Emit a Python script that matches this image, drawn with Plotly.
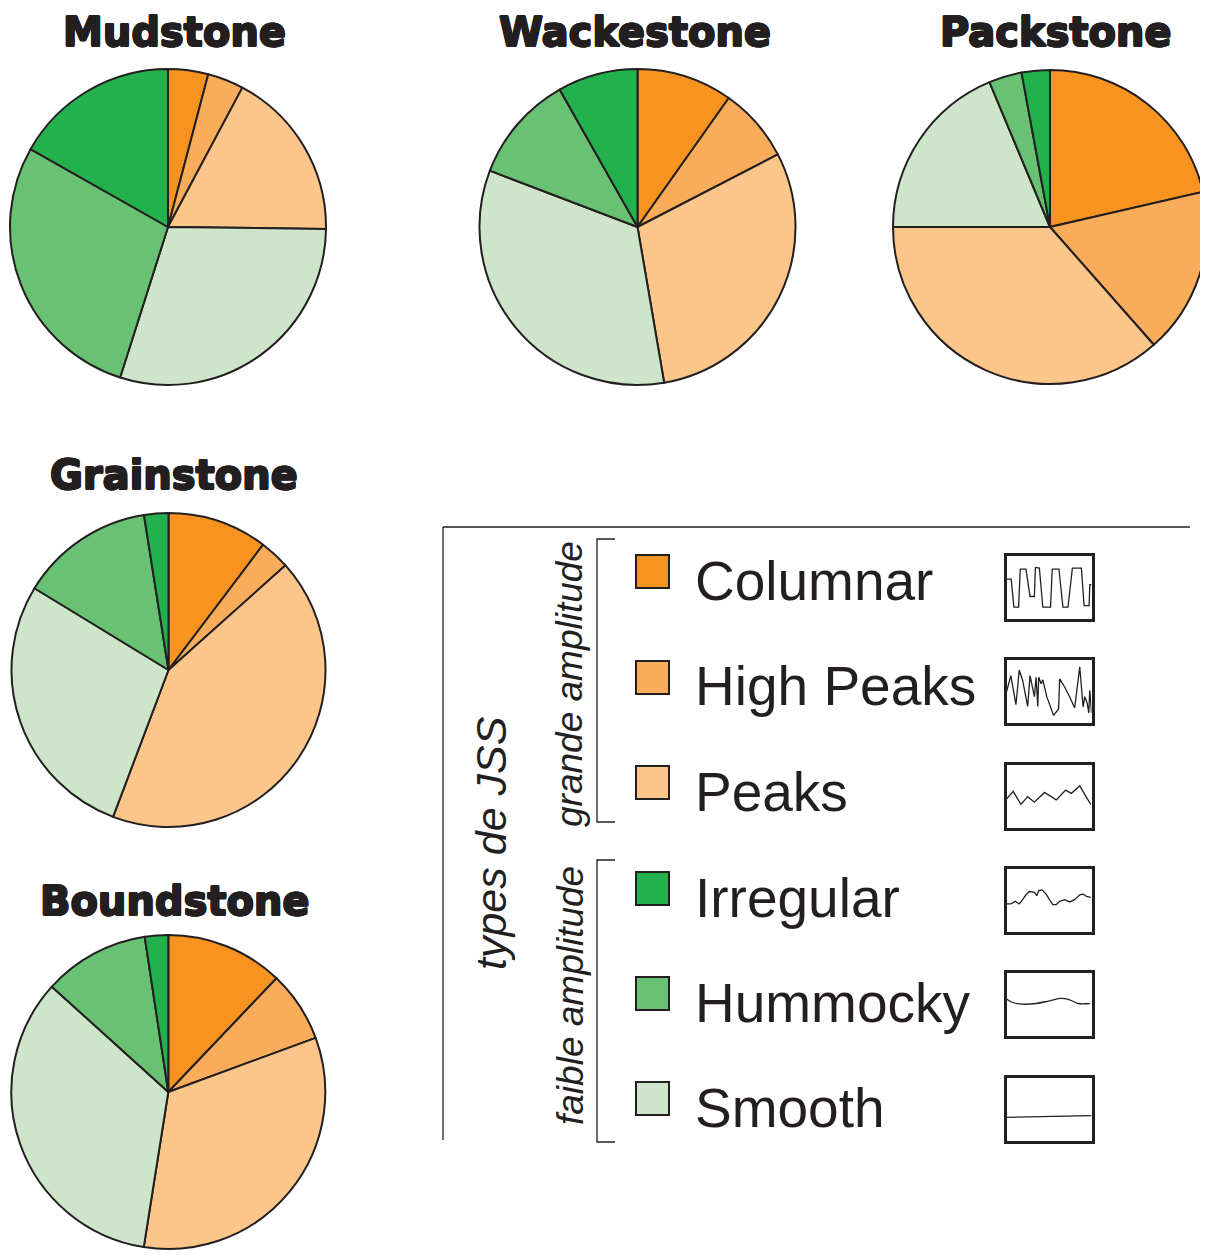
import plotly.graph_objects as go

# page body has an 8 px margin: the figure is drawn from (8, 8)
OFF = 8
W, H = 1200, 1250

# ---------------- data ----------------
categories = ["Columnar", "High Peaks", "Peaks", "Irregular", "Hummocky", "Smooth"]
colors = ["#F7931E", "#F9AD5A", "#FCC68A", "#23B14D", "#69C174", "#CDE6CA"]

facies = ["Mudstone", "Wackestone", "Packstone", "Grainstone", "Boundstone"]
# percentages per category (legend order: Columnar, High Peaks, Peaks, Irregular, Hummocky, Smooth)
mudstone   = [4.1, 3.7, 17.4, 16.8, 28.3, 29.7]
wackestone = [9.8, 7.6, 29.9, 8.2, 11.0, 33.5]
packstone  = [21.4, 17.1, 36.5, 2.9, 3.4, 18.7]
grainstone = [10.3, 3.1, 42.4, 2.5, 13.8, 28.0]
boundstone = [12.1, 7.3, 33.1, 2.4, 10.9, 34.2]
facies_values = [mudstone, wackestone, packstone, grainstone, boundstone]

# clockwise slice order starting at 12 o'clock
slice_order = ["Columnar", "High Peaks", "Peaks", "Smooth", "Hummocky", "Irregular"]

# legend icon sparklines (normalised 0..1 inside each box)
col_x = [0, 0.055, 0.087, 0.142, 0.162, 0.229, 0.277, 0.328, 0.340, 0.387, 0.427, 0.518,
         0.538, 0.617, 0.664, 0.723, 0.775, 0.881, 0.913, 0.972, 0.980, 1.0]
col_y = [0.626, 0.626, 0.179, 0.179, 0.785, 0.785, 0.349, 0.349, 0.810, 0.800, 0.179, 0.179,
         0.785, 0.785, 0.179, 0.179, 0.800, 0.800, 0.205, 0.205, 0.538, 0.538]
hp_x = [0, 0.051, 0.111, 0.150, 0.190, 0.249, 0.277, 0.328, 0.348, 0.368, 0.379, 0.407, 0.427,
        0.447, 0.474, 0.553, 0.613, 0.625, 0.684, 0.743, 0.802, 0.862, 0.901, 0.921, 0.949,
        0.968, 0.980, 1.0]
hp_y = [0.487, 0.744, 0.282, 0.831, 0.667, 0.256, 0.744, 0.410, 0.718, 0.256, 0.718, 0.615, 0.677,
        0.564, 0.410, 0.113, 0.215, 0.692, 0.564, 0.410, 0.231, 0.882, 0.246, 0.410, 0.308,
        0.154, 0.513, 0.154]
pk_x = [0, 0.079, 0.170, 0.249, 0.328, 0.447, 0.585, 0.696, 0.763, 0.862, 0.941, 0.992]
pk_y = [0.453, 0.573, 0.365, 0.490, 0.401, 0.557, 0.438, 0.594, 0.542, 0.661, 0.479, 0.365]
ir_x = [0, 0.051, 0.103, 0.150, 0.190, 0.229, 0.269, 0.328, 0.356, 0.379, 0.419, 0.466, 0.506,
        0.545, 0.585, 0.625, 0.684, 0.743, 0.802, 0.862, 0.901, 0.941, 0.992]
ir_y = [0.4375, 0.4375, 0.479, 0.4375, 0.505, 0.583, 0.635, 0.620, 0.568, 0.651, 0.661, 0.594,
        0.505, 0.427, 0.427, 0.479, 0.505, 0.469, 0.505, 0.583, 0.594, 0.557, 0.542]
hu_x = [0, 0.071, 0.190, 0.348, 0.506, 0.644, 0.743, 0.842, 0.980]
hu_y = [0.578, 0.524, 0.497, 0.508, 0.551, 0.588, 0.567, 0.508, 0.508]
sm_x = [0, 1]
sm_y = [0.368, 0.396]
icon_x = [col_x, hp_x, pk_x, ir_x, hu_x, sm_x]
icon_y = [col_y, hp_y, pk_y, ir_y, hu_y, sm_y]

group_labels = ["grande amplitude", "faible amplitude"]
legend_title = "types de JSS"

# ---------------- layout helpers ----------------
INK = "#231F20"


def fx(px):
    return (px - OFF) / W


def fy(py):
    return 1 - (py - OFF) / H


# pie placement: (center x, center y, radius) in screen pixels
pie_geom = [(168, 227, 158), (637.5, 227, 158), (1050, 227, 157),
            (168.5, 670, 157), (168.3, 1092, 157)]
title_pos = [(174.5, 32), (635, 32), (1056, 32), (174, 475), (174.5, 901)]

fig = go.Figure()

for name, vals, (cx, cy, r) in zip(facies, facies_values, pie_geom):
    lookup = dict(zip(categories, vals))
    ccol = dict(zip(categories, colors))
    fig.add_trace(go.Pie(
        labels=slice_order,
        values=[lookup[c] for c in slice_order],
        marker=dict(colors=[ccol[c] for c in slice_order], line=dict(color=INK, width=2)),
        sort=False, direction="clockwise", rotation=0,
        textinfo="none", hoverinfo="label+percent", name=name,
        domain=dict(x=[fx(cx - r), fx(cx + r)], y=[fy(cy + r), fy(cy - r)]),
        showlegend=False,
    ))

heavy = ("0.9px 0 0 #231F20, -0.9px 0 0 #231F20, 0 0.6px 0 #231F20, 0 -0.6px 0 #231F20, "
         "0.6px 0.6px 0 #231F20, -0.6px -0.6px 0 #231F20, 0.6px -0.6px 0 #231F20, -0.6px 0.6px 0 #231F20")

annotations = []
for name, (tx, ty) in zip(facies, title_pos):
    annotations.append(dict(
        text=f"<b>{name}</b>", x=fx(tx), y=fy(ty), xref="paper", yref="paper",
        xanchor="center", yanchor="middle", showarrow=False,
        font=dict(family="DejaVu Sans, sans-serif", size=40, color=INK, shadow=heavy),
    ))

shapes = []
# legend frame lines
shapes.append(dict(type="line", xref="paper", yref="paper", x0=fx(443), x1=fx(1190),
                   y0=fy(527), y1=fy(527), line=dict(color=INK, width=1.3)))
shapes.append(dict(type="line", xref="paper", yref="paper", x0=fx(443), x1=fx(443),
                   y0=fy(527), y1=fy(1140), line=dict(color=INK, width=1.3)))
# brackets
for (top, bot) in [(539, 822), (860, 1142)]:
    shapes.append(dict(type="path", xref="paper", yref="paper",
                       path=f"M {fx(615)} {fy(top)} L {fx(597)} {fy(top)} L {fx(597)} {fy(bot)} L {fx(615)} {fy(bot)}",
                       line=dict(color=INK, width=1.3)))

# group labels
for lab, cy in zip(group_labels, [684, 996]):
    annotations.append(dict(
        text=f"<i>{lab}</i>", x=fx(570), y=fy(cy), xref="paper", yref="paper",
        xanchor="center", yanchor="middle", showarrow=False, textangle=-90,
        font=dict(family="Liberation Sans, Arial, sans-serif", size=37, color=INK),
    ))
annotations.append(dict(
    text=f"<i>{legend_title}</i>", x=fx(491), y=fy(843), xref="paper", yref="paper",
    xanchor="center", yanchor="middle", showarrow=False, textangle=-90,
    font=dict(family="Liberation Sans, Arial, sans-serif", size=43, color=INK),
))

sq_tops = [555, 661, 766, 872, 977, 1082]
box_tops = [554, 658, 763, 867, 971, 1076]
for i, (cat, colr) in enumerate(zip(categories, colors)):
    t = sq_tops[i]
    shapes.append(dict(type="rect", xref="paper", yref="paper",
                       x0=fx(636), x1=fx(669), y0=fy(t + 33), y1=fy(t),
                       fillcolor=colr, line=dict(color=INK, width=2)))
    annotations.append(dict(
        text=cat, x=fx(693), y=fy(t + 16.5 + 9), xref="paper", yref="paper",
        xanchor="left", yanchor="middle", showarrow=False,
        font=dict(family="Liberation Sans, Arial, sans-serif", size=55, color=INK),
    ))

# sparkline icons on small axes
layout_axes = {}
for i in range(6):
    n = "" if i == 0 else str(i + 1)
    bt = box_tops[i]
    fig.add_trace(go.Scatter(
        x=icon_x[i], y=icon_y[i], mode="lines",
        line=dict(color=INK, width=1.3, shape="spline" if i == 4 else "linear"),
        xaxis="x" + n, yaxis="y" + n, showlegend=False, hoverinfo="skip",
    ))
    ax = dict(domain=[fx(1006.5), fx(1091.5)], range=[0, 1], showgrid=False, zeroline=False,
              showticklabels=False, ticks="", showline=True, mirror=True,
              linecolor=INK, linewidth=2.5, fixedrange=True)
    ay = dict(domain=[fy(bt + 64.5), fy(bt + 1.5)], range=[0, 1], showgrid=False, zeroline=False,
              showticklabels=False, ticks="", showline=True, mirror=True,
              linecolor=INK, linewidth=2.5, fixedrange=True)
    ax["anchor"] = "y" + n
    ay["anchor"] = "x" + n
    layout_axes["xaxis" + n] = ax
    layout_axes["yaxis" + n] = ay

fig.update_layout(
    width=W, height=H, margin=dict(l=0, r=0, t=0, b=0),
    paper_bgcolor="white", plot_bgcolor="white",
    showlegend=False, annotations=annotations, shapes=shapes,
    **layout_axes,
)

fig.write_html("out.html")
